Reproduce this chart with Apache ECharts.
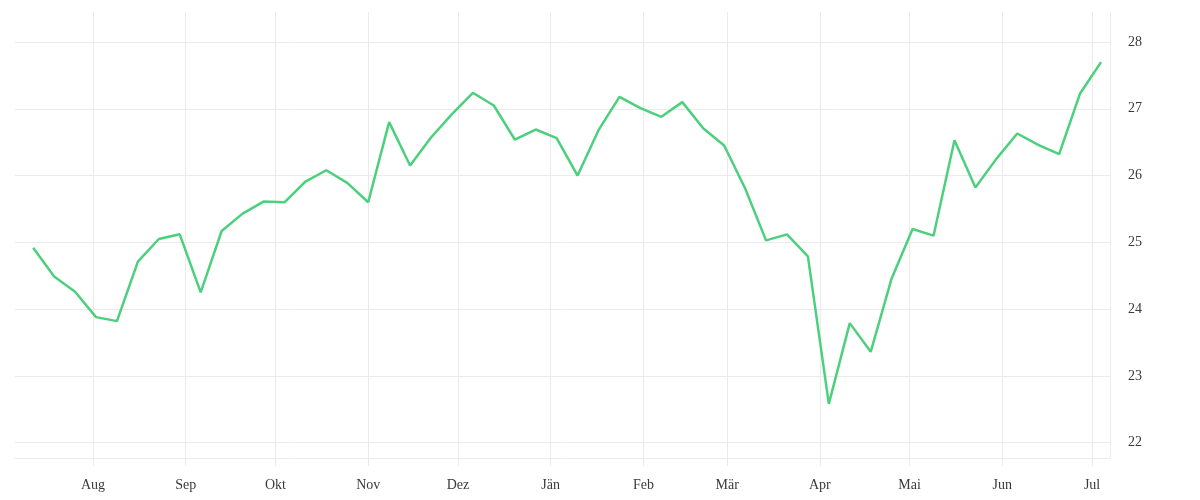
<!DOCTYPE html>
<html>
<head>
<meta charset="utf-8">
<script src="https://cdn.jsdelivr.net/npm/echarts@6/dist/echarts.min.js"></script>
<style>html,body{margin:0;padding:0;background:#fff}#c{width:1200px;height:500px}</style>
</head>
<body>
<div id="c"></div>
<script>
const dates = [
  '2018-07-12','2018-07-19','2018-07-26','2018-08-02','2018-08-09','2018-08-16','2018-08-23','2018-08-30',
  '2018-09-06','2018-09-13','2018-09-20','2018-09-27','2018-10-04','2018-10-11','2018-10-18','2018-10-25',
  '2018-11-01','2018-11-08','2018-11-15','2018-11-22','2018-11-29','2018-12-06','2018-12-13','2018-12-20',
  '2018-12-27','2019-01-03','2019-01-10','2019-01-17','2019-01-24','2019-01-31','2019-02-07','2019-02-14',
  '2019-02-21','2019-02-28','2019-03-07','2019-03-14','2019-03-21','2019-03-28','2019-04-04','2019-04-11',
  '2019-04-18','2019-04-25','2019-05-02','2019-05-09','2019-05-16','2019-05-23','2019-05-30','2019-06-06',
  '2019-06-13','2019-06-20','2019-06-27','2019-07-04'
];
const values = [
  24.92, 24.49, 24.26, 23.88, 23.82, 24.71, 25.05, 25.12,
  24.25, 25.17, 25.43, 25.61, 25.60, 25.91, 26.08, 25.89,
  25.60, 26.80, 26.15, 26.57, 26.92, 27.24, 27.05, 26.54,
  26.69, 26.56, 26.00, 26.68, 27.18, 27.01, 26.88, 27.10,
  26.71, 26.45, 25.81, 25.03, 25.12, 24.79, 22.58, 23.79,
  23.36, 24.46, 25.20, 25.10, 26.53, 25.82, 26.25, 26.63,
  26.46, 26.32, 27.23, 27.70
];
const monthTicks = ['2018-08-01','2018-09-01','2018-10-01','2018-11-01','2018-12-01','2019-01-01',
  '2019-02-01','2019-03-01','2019-04-01','2019-05-01','2019-06-01','2019-07-01'];
const monthLabels = ['Aug','Sep','Okt','Nov','Dez','Jän','Feb','Mär','Apr','Mai','Jun','Jul'];
const yTicks = [22, 23, 24, 25, 26, 27, 28];

const toTime = d => Date.UTC(+d.slice(0,4), +d.slice(5,7) - 1, +d.slice(8,10));
const tickTimes = monthTicks.map(toTime);
const gridColor = '#ebebeb';
const fontFamily = '"Liberation Serif", serif';

const chart = echarts.init(document.getElementById('c'), null, {renderer: 'canvas'});
chart.setOption({
  animation: false,
  backgroundColor: '#ffffff',
  grid: {left: 15, right: 90, top: 12, bottom: 42, containLabel: false},
  xAxis: {
    type: 'value',
    scale: true,
    min: toTime('2018-07-05') + 22 * 3600e3,
    max: toTime('2019-07-07'),
    axisLine: {show: true, lineStyle: {color: gridColor, width: 1}},
    axisTick: {show: true, length: 8, lineStyle: {color: gridColor}, customValues: tickTimes},
    splitLine: {show: true, lineStyle: {color: gridColor, width: 1}},
    axisLabel: {
      customValues: tickTimes,
      margin: 20,
      color: '#3a3a3a',
      fontFamily: fontFamily,
      fontSize: 14,
      formatter: function (v) {
        const i = tickTimes.indexOf(v);
        return i >= 0 ? monthLabels[i] : '';
      }
    }
  },
  yAxis: {
    type: 'value',
    position: 'right',
    scale: true,
    min: 21.77,
    max: 28.45,
    axisLine: {show: true, lineStyle: {color: gridColor, width: 1}},
    axisTick: {show: false, customValues: yTicks},
    splitLine: {show: true, lineStyle: {color: gridColor, width: 1}},
    axisLabel: {
      customValues: yTicks,
      margin: 18,
      padding: [3, 0, 0, 0],
      color: '#3a3a3a',
      fontFamily: fontFamily,
      fontSize: 14
    }
  },
  series: [{
    type: 'line',
    data: dates.map((d, i) => [toTime(d), values[i]]),
    showSymbol: false,
    symbol: 'none',
    lineStyle: {color: '#4cd07d', width: 2.5},
    itemStyle: {color: '#4cd07d'}
  }]
});
</script>
</body>
</html>
